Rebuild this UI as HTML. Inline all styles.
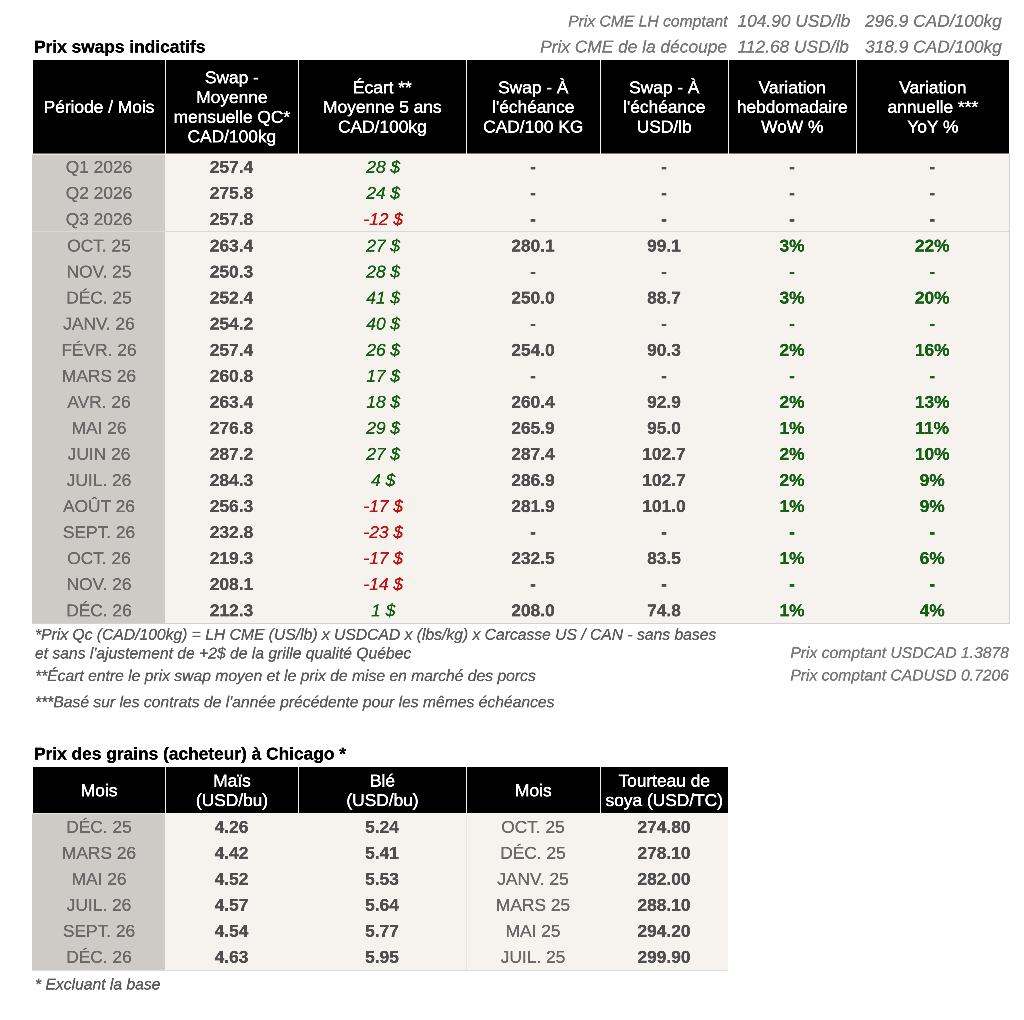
<!DOCTYPE html>
<html lang="fr"><head><meta charset="utf-8"><title>Prix swaps indicatifs</title>
<style>
html,body{margin:0;padding:0;background:#fff;}
body{width:1024px;height:1020px;position:relative;overflow:hidden;font-family:"Liberation Sans",sans-serif;color:#000;}
.b{position:absolute;}
.t{position:absolute;white-space:nowrap;text-align:center;}
#z{-webkit-text-stroke:1.4px currentColor;}
.h{color:#fff;}
.hd>div{position:relative;top:0.8px;}
.hd{-webkit-text-stroke:2px currentColor;position:absolute;background:#000;color:#fff;display:flex;align-items:center;justify-content:center;text-align:center;line-height:78.6px;box-sizing:border-box;}
.p{color:#6a6a6a;}
.n{color:#4f4f4f;font-weight:700;}
.g{color:#176117;font-style:italic;}
.r{color:#ba1616;font-style:italic;}
.gb{color:#176117;font-weight:700;}
.top{color:#7a7a7a;font-style:italic;text-align:left;}
.foot{color:#5e5e5e;font-style:italic;text-align:left;font-size:62.68px;}
.ttl{font-weight:700;text-align:left;color:#000;}
#z{position:absolute;left:0;top:0;width:4096px;height:4080px;font-size:69.32px;transform:scale(0.25);transform-origin:0 0;will-change:transform;}
</style></head><body><div id="z">

<div class="t top" style="right:1186px;top:32px;height:104px;line-height:104px;text-align:right;font-size:62.68px">Prix CME LH comptant</div>
<div class="t top" style="right:1188px;top:134px;height:104px;line-height:104px;text-align:right">Prix CME de la découpe</div>
<div class="t top" style="left:2950px;top:30.8px;height:104px;line-height:104px">104.90 USD/lb</div>
<div class="t top" style="left:2950px;top:134px;height:104px;line-height:104px">112.68 USD/lb</div>
<div class="t top" style="left:3460px;top:30.8px;height:104px;line-height:104px">296.9 CAD/100kg</div>
<div class="t top" style="left:3460px;top:134px;height:104px;line-height:104px">318.9 CAD/100kg</div>
<div class="t ttl" style="left:136px;top:133.6px;height:104px;line-height:104px">Prix swaps indicatifs</div>
<div class="b" style="left:129px;top:613.6px;width:3911px;height:1881.4px;background:#d2d2d2"></div>
<div class="b" style="left:129px;top:613.6px;width:531px;height:1877.4px;background:#cecbc6"></div>
<div class="b" style="left:660px;top:613.6px;width:3376px;height:1877.4px;background:#f6f3ee"></div>
<div class="b" style="left:129px;top:613.6px;width:531px;height:5px;background:rgba(255,255,255,0.5)"></div>
<div class="b" style="left:660px;top:613.6px;width:3376px;height:5px;background:rgba(255,255,255,0.3)"></div>
<div class="b" style="left:129px;top:925px;width:3907px;height:4px;background:#d9d9d9"></div>
<div class="b" style="left:136px;top:240px;width:3896px;height:373.6px;background:#f4f4f4"></div>
<div class="hd" style="left:133px;top:240px;width:526px;height:373.6px"><div>Période / Mois</div></div>
<div class="hd" style="left:663px;top:240px;width:529px;height:373.6px"><div>Swap -<br>Moyenne<br>mensuelle QC*<br>CAD/100kg</div></div>
<div class="hd" style="left:1196px;top:240px;width:667px;height:373.6px"><div>Écart **<br>Moyenne 5 ans<br>CAD/100kg</div></div>
<div class="hd" style="left:1867px;top:240px;width:532px;height:373.6px"><div>Swap - À<br>l'échéance<br>CAD/100 KG</div></div>
<div class="hd" style="left:2403px;top:240px;width:508px;height:373.6px"><div>Swap - À<br>l'échéance<br>USD/lb</div></div>
<div class="hd" style="left:2915px;top:240px;width:508px;height:373.6px"><div>Variation<br>hebdomadaire<br>WoW %</div></div>
<div class="hd" style="left:3427px;top:240px;width:609px;height:373.6px"><div>Variation<br>annuelle ***<br>YoY %</div></div>
<div class="t p" style="left:132px;top:615.2px;width:528px;height:104.2px;line-height:104.2px;">Q1 2026</div>
<div class="t n" style="left:660px;top:615.2px;width:532px;height:104.2px;line-height:104.2px;">257.4</div>
<div class="t g" style="left:1196.8px;top:615.2px;width:672px;height:104.2px;line-height:104.2px;">28 $</div>
<div class="t n" style="left:1864px;top:615.2px;width:536px;height:104.2px;line-height:104.2px;">-</div>
<div class="t n" style="left:2400px;top:615.2px;width:512px;height:104.2px;line-height:104.2px;">-</div>
<div class="t n" style="left:2912px;top:615.2px;width:512px;height:104.2px;line-height:104.2px;">-</div>
<div class="t n" style="left:3420.8px;top:615.2px;width:616px;height:104.2px;line-height:104.2px;">-</div>
<div class="t p" style="left:132px;top:719.4px;width:528px;height:104.2px;line-height:104.2px;">Q2 2026</div>
<div class="t n" style="left:660px;top:719.4px;width:532px;height:104.2px;line-height:104.2px;">275.8</div>
<div class="t g" style="left:1196.8px;top:719.4px;width:672px;height:104.2px;line-height:104.2px;">24 $</div>
<div class="t n" style="left:1864px;top:719.4px;width:536px;height:104.2px;line-height:104.2px;">-</div>
<div class="t n" style="left:2400px;top:719.4px;width:512px;height:104.2px;line-height:104.2px;">-</div>
<div class="t n" style="left:2912px;top:719.4px;width:512px;height:104.2px;line-height:104.2px;">-</div>
<div class="t n" style="left:3420.8px;top:719.4px;width:616px;height:104.2px;line-height:104.2px;">-</div>
<div class="t p" style="left:132px;top:823.6px;width:528px;height:104.2px;line-height:104.2px;">Q3 2026</div>
<div class="t n" style="left:660px;top:823.6px;width:532px;height:104.2px;line-height:104.2px;">257.8</div>
<div class="t r" style="left:1196.8px;top:823.6px;width:672px;height:104.2px;line-height:104.2px;">-12 $</div>
<div class="t n" style="left:1864px;top:823.6px;width:536px;height:104.2px;line-height:104.2px;">-</div>
<div class="t n" style="left:2400px;top:823.6px;width:512px;height:104.2px;line-height:104.2px;">-</div>
<div class="t n" style="left:2912px;top:823.6px;width:512px;height:104.2px;line-height:104.2px;">-</div>
<div class="t n" style="left:3420.8px;top:823.6px;width:616px;height:104.2px;line-height:104.2px;">-</div>
<div class="t p" style="left:132px;top:929.8px;width:528px;height:104.2px;line-height:104.2px;">OCT. 25</div>
<div class="t n" style="left:660px;top:929.8px;width:532px;height:104.2px;line-height:104.2px;">263.4</div>
<div class="t g" style="left:1196.8px;top:929.8px;width:672px;height:104.2px;line-height:104.2px;">27 $</div>
<div class="t n" style="left:1864px;top:929.8px;width:536px;height:104.2px;line-height:104.2px;">280.1</div>
<div class="t n" style="left:2400px;top:929.8px;width:512px;height:104.2px;line-height:104.2px;">99.1</div>
<div class="t gb" style="left:2912px;top:929.8px;width:512px;height:104.2px;line-height:104.2px;">3%</div>
<div class="t gb" style="left:3420.8px;top:929.8px;width:616px;height:104.2px;line-height:104.2px;">22%</div>
<div class="t p" style="left:132px;top:1034px;width:528px;height:104.2px;line-height:104.2px;">NOV. 25</div>
<div class="t n" style="left:660px;top:1034px;width:532px;height:104.2px;line-height:104.2px;">250.3</div>
<div class="t g" style="left:1196.8px;top:1034px;width:672px;height:104.2px;line-height:104.2px;">28 $</div>
<div class="t n" style="left:1864px;top:1034px;width:536px;height:104.2px;line-height:104.2px;">-</div>
<div class="t n" style="left:2400px;top:1034px;width:512px;height:104.2px;line-height:104.2px;">-</div>
<div class="t gb" style="left:2912px;top:1034px;width:512px;height:104.2px;line-height:104.2px;">-</div>
<div class="t gb" style="left:3420.8px;top:1034px;width:616px;height:104.2px;line-height:104.2px;">-</div>
<div class="t p" style="left:132px;top:1138.2px;width:528px;height:104.2px;line-height:104.2px;">DÉC. 25</div>
<div class="t n" style="left:660px;top:1138.2px;width:532px;height:104.2px;line-height:104.2px;">252.4</div>
<div class="t g" style="left:1196.8px;top:1138.2px;width:672px;height:104.2px;line-height:104.2px;">41 $</div>
<div class="t n" style="left:1864px;top:1138.2px;width:536px;height:104.2px;line-height:104.2px;">250.0</div>
<div class="t n" style="left:2400px;top:1138.2px;width:512px;height:104.2px;line-height:104.2px;">88.7</div>
<div class="t gb" style="left:2912px;top:1138.2px;width:512px;height:104.2px;line-height:104.2px;">3%</div>
<div class="t gb" style="left:3420.8px;top:1138.2px;width:616px;height:104.2px;line-height:104.2px;">20%</div>
<div class="t p" style="left:132px;top:1242.4px;width:528px;height:104.2px;line-height:104.2px;">JANV. 26</div>
<div class="t n" style="left:660px;top:1242.4px;width:532px;height:104.2px;line-height:104.2px;">254.2</div>
<div class="t g" style="left:1196.8px;top:1242.4px;width:672px;height:104.2px;line-height:104.2px;">40 $</div>
<div class="t n" style="left:1864px;top:1242.4px;width:536px;height:104.2px;line-height:104.2px;">-</div>
<div class="t n" style="left:2400px;top:1242.4px;width:512px;height:104.2px;line-height:104.2px;">-</div>
<div class="t gb" style="left:2912px;top:1242.4px;width:512px;height:104.2px;line-height:104.2px;">-</div>
<div class="t gb" style="left:3420.8px;top:1242.4px;width:616px;height:104.2px;line-height:104.2px;">-</div>
<div class="t p" style="left:132px;top:1346.6px;width:528px;height:104.2px;line-height:104.2px;">FÉVR. 26</div>
<div class="t n" style="left:660px;top:1346.6px;width:532px;height:104.2px;line-height:104.2px;">257.4</div>
<div class="t g" style="left:1196.8px;top:1346.6px;width:672px;height:104.2px;line-height:104.2px;">26 $</div>
<div class="t n" style="left:1864px;top:1346.6px;width:536px;height:104.2px;line-height:104.2px;">254.0</div>
<div class="t n" style="left:2400px;top:1346.6px;width:512px;height:104.2px;line-height:104.2px;">90.3</div>
<div class="t gb" style="left:2912px;top:1346.6px;width:512px;height:104.2px;line-height:104.2px;">2%</div>
<div class="t gb" style="left:3420.8px;top:1346.6px;width:616px;height:104.2px;line-height:104.2px;">16%</div>
<div class="t p" style="left:132px;top:1450.8px;width:528px;height:104.2px;line-height:104.2px;">MARS 26</div>
<div class="t n" style="left:660px;top:1450.8px;width:532px;height:104.2px;line-height:104.2px;">260.8</div>
<div class="t g" style="left:1196.8px;top:1450.8px;width:672px;height:104.2px;line-height:104.2px;">17 $</div>
<div class="t n" style="left:1864px;top:1450.8px;width:536px;height:104.2px;line-height:104.2px;">-</div>
<div class="t n" style="left:2400px;top:1450.8px;width:512px;height:104.2px;line-height:104.2px;">-</div>
<div class="t gb" style="left:2912px;top:1450.8px;width:512px;height:104.2px;line-height:104.2px;">-</div>
<div class="t gb" style="left:3420.8px;top:1450.8px;width:616px;height:104.2px;line-height:104.2px;">-</div>
<div class="t p" style="left:132px;top:1555px;width:528px;height:104.2px;line-height:104.2px;">AVR. 26</div>
<div class="t n" style="left:660px;top:1555px;width:532px;height:104.2px;line-height:104.2px;">263.4</div>
<div class="t g" style="left:1196.8px;top:1555px;width:672px;height:104.2px;line-height:104.2px;">18 $</div>
<div class="t n" style="left:1864px;top:1555px;width:536px;height:104.2px;line-height:104.2px;">260.4</div>
<div class="t n" style="left:2400px;top:1555px;width:512px;height:104.2px;line-height:104.2px;">92.9</div>
<div class="t gb" style="left:2912px;top:1555px;width:512px;height:104.2px;line-height:104.2px;">2%</div>
<div class="t gb" style="left:3420.8px;top:1555px;width:616px;height:104.2px;line-height:104.2px;">13%</div>
<div class="t p" style="left:132px;top:1659.2px;width:528px;height:104.2px;line-height:104.2px;">MAI 26</div>
<div class="t n" style="left:660px;top:1659.2px;width:532px;height:104.2px;line-height:104.2px;">276.8</div>
<div class="t g" style="left:1196.8px;top:1659.2px;width:672px;height:104.2px;line-height:104.2px;">29 $</div>
<div class="t n" style="left:1864px;top:1659.2px;width:536px;height:104.2px;line-height:104.2px;">265.9</div>
<div class="t n" style="left:2400px;top:1659.2px;width:512px;height:104.2px;line-height:104.2px;">95.0</div>
<div class="t gb" style="left:2912px;top:1659.2px;width:512px;height:104.2px;line-height:104.2px;">1%</div>
<div class="t gb" style="left:3420.8px;top:1659.2px;width:616px;height:104.2px;line-height:104.2px;">11%</div>
<div class="t p" style="left:132px;top:1763.4px;width:528px;height:104.2px;line-height:104.2px;">JUIN 26</div>
<div class="t n" style="left:660px;top:1763.4px;width:532px;height:104.2px;line-height:104.2px;">287.2</div>
<div class="t g" style="left:1196.8px;top:1763.4px;width:672px;height:104.2px;line-height:104.2px;">27 $</div>
<div class="t n" style="left:1864px;top:1763.4px;width:536px;height:104.2px;line-height:104.2px;">287.4</div>
<div class="t n" style="left:2400px;top:1763.4px;width:512px;height:104.2px;line-height:104.2px;">102.7</div>
<div class="t gb" style="left:2912px;top:1763.4px;width:512px;height:104.2px;line-height:104.2px;">2%</div>
<div class="t gb" style="left:3420.8px;top:1763.4px;width:616px;height:104.2px;line-height:104.2px;">10%</div>
<div class="t p" style="left:132px;top:1867.6px;width:528px;height:104.2px;line-height:104.2px;">JUIL. 26</div>
<div class="t n" style="left:660px;top:1867.6px;width:532px;height:104.2px;line-height:104.2px;">284.3</div>
<div class="t g" style="left:1196.8px;top:1867.6px;width:672px;height:104.2px;line-height:104.2px;">4 $</div>
<div class="t n" style="left:1864px;top:1867.6px;width:536px;height:104.2px;line-height:104.2px;">286.9</div>
<div class="t n" style="left:2400px;top:1867.6px;width:512px;height:104.2px;line-height:104.2px;">102.7</div>
<div class="t gb" style="left:2912px;top:1867.6px;width:512px;height:104.2px;line-height:104.2px;">2%</div>
<div class="t gb" style="left:3420.8px;top:1867.6px;width:616px;height:104.2px;line-height:104.2px;">9%</div>
<div class="t p" style="left:132px;top:1971.8px;width:528px;height:104.2px;line-height:104.2px;">AOÛT 26</div>
<div class="t n" style="left:660px;top:1971.8px;width:532px;height:104.2px;line-height:104.2px;">256.3</div>
<div class="t r" style="left:1196.8px;top:1971.8px;width:672px;height:104.2px;line-height:104.2px;">-17 $</div>
<div class="t n" style="left:1864px;top:1971.8px;width:536px;height:104.2px;line-height:104.2px;">281.9</div>
<div class="t n" style="left:2400px;top:1971.8px;width:512px;height:104.2px;line-height:104.2px;">101.0</div>
<div class="t gb" style="left:2912px;top:1971.8px;width:512px;height:104.2px;line-height:104.2px;">1%</div>
<div class="t gb" style="left:3420.8px;top:1971.8px;width:616px;height:104.2px;line-height:104.2px;">9%</div>
<div class="t p" style="left:132px;top:2076px;width:528px;height:104.2px;line-height:104.2px;">SEPT. 26</div>
<div class="t n" style="left:660px;top:2076px;width:532px;height:104.2px;line-height:104.2px;">232.8</div>
<div class="t r" style="left:1196.8px;top:2076px;width:672px;height:104.2px;line-height:104.2px;">-23 $</div>
<div class="t n" style="left:1864px;top:2076px;width:536px;height:104.2px;line-height:104.2px;">-</div>
<div class="t n" style="left:2400px;top:2076px;width:512px;height:104.2px;line-height:104.2px;">-</div>
<div class="t gb" style="left:2912px;top:2076px;width:512px;height:104.2px;line-height:104.2px;">-</div>
<div class="t gb" style="left:3420.8px;top:2076px;width:616px;height:104.2px;line-height:104.2px;">-</div>
<div class="t p" style="left:132px;top:2180.2px;width:528px;height:104.2px;line-height:104.2px;">OCT. 26</div>
<div class="t n" style="left:660px;top:2180.2px;width:532px;height:104.2px;line-height:104.2px;">219.3</div>
<div class="t r" style="left:1196.8px;top:2180.2px;width:672px;height:104.2px;line-height:104.2px;">-17 $</div>
<div class="t n" style="left:1864px;top:2180.2px;width:536px;height:104.2px;line-height:104.2px;">232.5</div>
<div class="t n" style="left:2400px;top:2180.2px;width:512px;height:104.2px;line-height:104.2px;">83.5</div>
<div class="t gb" style="left:2912px;top:2180.2px;width:512px;height:104.2px;line-height:104.2px;">1%</div>
<div class="t gb" style="left:3420.8px;top:2180.2px;width:616px;height:104.2px;line-height:104.2px;">6%</div>
<div class="t p" style="left:132px;top:2284.4px;width:528px;height:104.2px;line-height:104.2px;">NOV. 26</div>
<div class="t n" style="left:660px;top:2284.4px;width:532px;height:104.2px;line-height:104.2px;">208.1</div>
<div class="t r" style="left:1196.8px;top:2284.4px;width:672px;height:104.2px;line-height:104.2px;">-14 $</div>
<div class="t n" style="left:1864px;top:2284.4px;width:536px;height:104.2px;line-height:104.2px;">-</div>
<div class="t n" style="left:2400px;top:2284.4px;width:512px;height:104.2px;line-height:104.2px;">-</div>
<div class="t gb" style="left:2912px;top:2284.4px;width:512px;height:104.2px;line-height:104.2px;">-</div>
<div class="t gb" style="left:3420.8px;top:2284.4px;width:616px;height:104.2px;line-height:104.2px;">-</div>
<div class="t p" style="left:132px;top:2388.6px;width:528px;height:104.2px;line-height:104.2px;">DÉC. 26</div>
<div class="t n" style="left:660px;top:2388.6px;width:532px;height:104.2px;line-height:104.2px;">212.3</div>
<div class="t g" style="left:1196.8px;top:2388.6px;width:672px;height:104.2px;line-height:104.2px;">1 $</div>
<div class="t n" style="left:1864px;top:2388.6px;width:536px;height:104.2px;line-height:104.2px;">208.0</div>
<div class="t n" style="left:2400px;top:2388.6px;width:512px;height:104.2px;line-height:104.2px;">74.8</div>
<div class="t gb" style="left:2912px;top:2388.6px;width:512px;height:104.2px;line-height:104.2px;">1%</div>
<div class="t gb" style="left:3420.8px;top:2388.6px;width:616px;height:104.2px;line-height:104.2px;">4%</div>
<div class="t foot" style="left:140px;top:2496.8px;height:80px;line-height:80px">*Prix Qc (CAD/100kg) = LH CME (US/lb) x USDCAD x (lbs/kg) x Carcasse US / CAN - sans bases</div>
<div class="t foot" style="left:140px;top:2572.4px;height:80px;line-height:80px">et sans l'ajustement de +2$ de la grille qualité Québec</div>
<div class="t foot" style="left:140px;top:2662px;height:80px;line-height:80px">**Écart entre le prix swap moyen et le prix de mise en marché des porcs</div>
<div class="t foot" style="left:140px;top:2766.8px;height:80px;line-height:80px">***Basé sur les contrats de l'année précédente pour les mêmes échéances</div>
<div class="t foot" style="right:60.4px;top:2569.6px;height:80px;line-height:80px;text-align:right;color:#7a7a7a">Prix comptant USDCAD 1.3878</div>
<div class="t foot" style="right:60.4px;top:2660px;height:80px;line-height:80px;text-align:right;color:#7a7a7a">Prix comptant CADUSD 0.7206</div>
<div class="t ttl" style="left:136px;top:2961.6px;height:104px;line-height:104px">Prix des grains (acheteur) à Chicago *</div>
<div class="b" style="left:129px;top:3252px;width:2782px;height:631px;background:#dedede"></div>
<div class="b" style="left:129px;top:3252px;width:531px;height:628px;background:#cecbc6"></div>
<div class="b" style="left:660px;top:3252px;width:2251px;height:628px;background:#f6f3ee"></div>
<div class="b" style="left:1864px;top:3252px;width:4px;height:628px;background:#e6e6e6"></div>
<div class="b" style="left:129px;top:3252px;width:531px;height:4px;background:rgba(255,255,255,0.5)"></div>
<div class="b" style="left:660px;top:3252px;width:2251px;height:4px;background:rgba(255,255,255,0.3)"></div>
<div class="b" style="left:136px;top:3068px;width:2772px;height:184px;background:#f0f0f0"></div>
<div class="hd" style="left:133px;top:3068px;width:527px;height:184px"><div style="top:1.2px">Mois</div></div>
<div class="hd" style="left:664px;top:3068px;width:528px;height:184px"><div style="top:1.2px">Maïs<br>(USD/bu)</div></div>
<div class="hd" style="left:1196px;top:3068px;width:668px;height:184px"><div style="top:1.2px">Blé<br>(USD/bu)</div></div>
<div class="hd" style="left:1868px;top:3068px;width:531px;height:184px"><div style="top:1.2px">Mois</div></div>
<div class="hd" style="left:2403px;top:3068px;width:508px;height:184px"><div style="top:1.2px">Tourteau de<br>soya (USD/TC)</div></div>
<div class="t p" style="left:132px;top:3255.2px;width:528px;height:104.2px;line-height:104.2px;">DÉC. 25</div>
<div class="t n" style="left:660px;top:3255.2px;width:532px;height:104.2px;line-height:104.2px;">4.26</div>
<div class="t n" style="left:1192px;top:3255.2px;width:672px;height:104.2px;line-height:104.2px;">5.24</div>
<div class="t p" style="left:1864px;top:3255.2px;width:536px;height:104.2px;line-height:104.2px;">OCT. 25</div>
<div class="t n" style="left:2400px;top:3255.2px;width:512px;height:104.2px;line-height:104.2px;">274.80</div>
<div class="t p" style="left:132px;top:3359.16px;width:528px;height:104.2px;line-height:104.2px;">MARS 26</div>
<div class="t n" style="left:660px;top:3359.16px;width:532px;height:104.2px;line-height:104.2px;">4.42</div>
<div class="t n" style="left:1192px;top:3359.16px;width:672px;height:104.2px;line-height:104.2px;">5.41</div>
<div class="t p" style="left:1864px;top:3359.16px;width:536px;height:104.2px;line-height:104.2px;">DÉC. 25</div>
<div class="t n" style="left:2400px;top:3359.16px;width:512px;height:104.2px;line-height:104.2px;">278.10</div>
<div class="t p" style="left:132px;top:3463.12px;width:528px;height:104.2px;line-height:104.2px;">MAI 26</div>
<div class="t n" style="left:660px;top:3463.12px;width:532px;height:104.2px;line-height:104.2px;">4.52</div>
<div class="t n" style="left:1192px;top:3463.12px;width:672px;height:104.2px;line-height:104.2px;">5.53</div>
<div class="t p" style="left:1864px;top:3463.12px;width:536px;height:104.2px;line-height:104.2px;">JANV. 25</div>
<div class="t n" style="left:2400px;top:3463.12px;width:512px;height:104.2px;line-height:104.2px;">282.00</div>
<div class="t p" style="left:132px;top:3567.08px;width:528px;height:104.2px;line-height:104.2px;">JUIL. 26</div>
<div class="t n" style="left:660px;top:3567.08px;width:532px;height:104.2px;line-height:104.2px;">4.57</div>
<div class="t n" style="left:1192px;top:3567.08px;width:672px;height:104.2px;line-height:104.2px;">5.64</div>
<div class="t p" style="left:1864px;top:3567.08px;width:536px;height:104.2px;line-height:104.2px;">MARS 25</div>
<div class="t n" style="left:2400px;top:3567.08px;width:512px;height:104.2px;line-height:104.2px;">288.10</div>
<div class="t p" style="left:132px;top:3671.04px;width:528px;height:104.2px;line-height:104.2px;">SEPT. 26</div>
<div class="t n" style="left:660px;top:3671.04px;width:532px;height:104.2px;line-height:104.2px;">4.54</div>
<div class="t n" style="left:1192px;top:3671.04px;width:672px;height:104.2px;line-height:104.2px;">5.77</div>
<div class="t p" style="left:1864px;top:3671.04px;width:536px;height:104.2px;line-height:104.2px;">MAI 25</div>
<div class="t n" style="left:2400px;top:3671.04px;width:512px;height:104.2px;line-height:104.2px;">294.20</div>
<div class="t p" style="left:132px;top:3775px;width:528px;height:104.2px;line-height:104.2px;">DÉC. 26</div>
<div class="t n" style="left:660px;top:3775px;width:532px;height:104.2px;line-height:104.2px;">4.63</div>
<div class="t n" style="left:1192px;top:3775px;width:672px;height:104.2px;line-height:104.2px;">5.95</div>
<div class="t p" style="left:1864px;top:3775px;width:536px;height:104.2px;line-height:104.2px;">JUIL. 25</div>
<div class="t n" style="left:2400px;top:3775px;width:512px;height:104.2px;line-height:104.2px;">299.90</div>
<div class="t foot" style="left:140px;top:3896px;height:80px;line-height:80px">* Excluant la base</div>
</div></body></html>
